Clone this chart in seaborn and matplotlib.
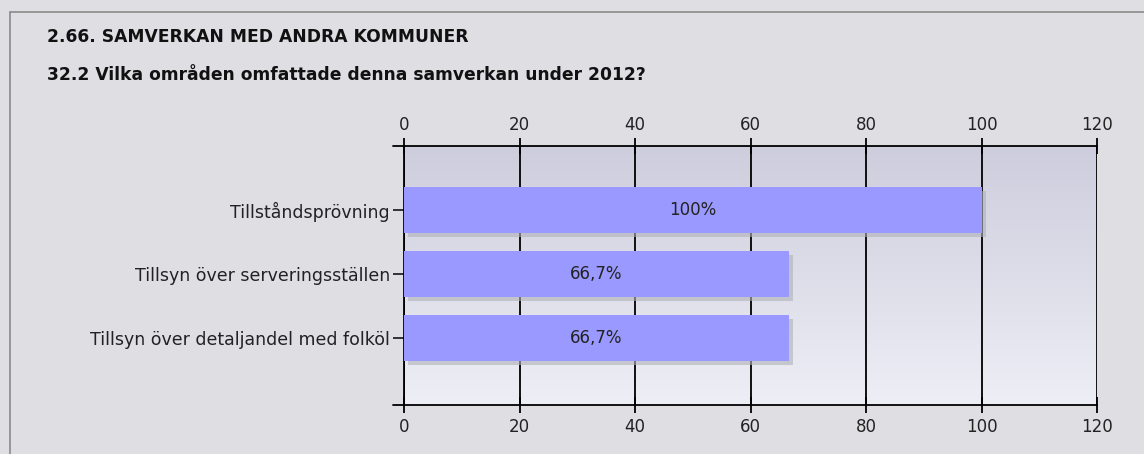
import numpy as np
import pandas as pd
import seaborn as sns
import matplotlib.pyplot as plt
import matplotlib.patheffects as pe
from matplotlib.lines import Line2D

categories = ["Tillståndsprövning", "Tillsyn över serveringsställen",
              "Tillsyn över detaljandel med folköl"]
values = [100, 66.7, 66.7]
value_labels = ["100%", "66,7%", "66,7%"]
x_ticks = [0, 20, 40, 60, 80, 100, 120]

title_1 = "2.66. SAMVERKAN MED ANDRA KOMMUNER"
title_2 = "32.2 Vilka områden omfattade denna samverkan under 2012?"

df = pd.DataFrame({"omrade": categories, "andel": values})

sns.set_style("white")
plt.rcParams["font.family"] = ["DejaVu Sans"]

bg = "#dfdee3"
fig = plt.figure(figsize=(11.44, 4.54), dpi=100, facecolor=bg)
ax = fig.add_axes([404 / 1144, 49 / 454, 693 / 1144, 259 / 454])

# panel border
fig.add_artist(Line2D([10 / 1144, 10 / 1144], [0, 1 - 12 / 454], color="#8a8a8a", lw=1.2))
fig.add_artist(Line2D([10 / 1144, 1], [1 - 12 / 454, 1 - 12 / 454], color="#8a8a8a", lw=1.2))

fig.text(47 / 1144, 1 - 37 / 454, title_1, fontsize=12.3, fontweight="bold", va="center", color="#111111")
fig.text(47 / 1144, 1 - 75 / 454, title_2, fontsize=12.3, fontweight="bold", va="center", color="#111111")

# gradient background in plot area
grad = np.linspace(0, 1, 256).reshape(-1, 1)
cmap = sns.blend_palette(["#cdcddd", "#eeeef6"], as_cmap=True)
ax.imshow(grad, aspect="auto", cmap=cmap, extent=[0, 120, 3.05, -1], zorder=0)

sns.barplot(data=df, y="omrade", x="andel", orient="h", color="#9999ff",
            saturation=1, width=0.73, linewidth=0, ax=ax, zorder=3)
for p in ax.patches:
    p.set_path_effects([pe.SimplePatchShadow(offset=(3, -3), shadow_rgbFace="#b0b0b8", alpha=0.6),
                        pe.Normal()])

for i, (v, lab) in enumerate(zip(values, value_labels)):
    ax.text(v / 2, i, lab, ha="center", va="center", fontsize=12, color="#222222", zorder=5)

ax.set_xlim(0, 120)
ax.set_ylim(3.05, -1)
ax.set_xticks(x_ticks)
ax.set_yticks(range(len(categories)))
ax.set_yticklabels(categories)
ax.set_xlabel("")
ax.set_ylabel("")

for t in x_ticks:
    ax.axvline(t, color="black", lw=1.3, zorder=1)

for s in ["top", "bottom", "left"]:
    ax.spines[s].set_visible(True)
    ax.spines[s].set_color("black")
    ax.spines[s].set_linewidth(1.3)
ax.spines["right"].set_visible(False)

ax.tick_params(axis="x", top=True, labeltop=True, bottom=True, labelbottom=True,
               direction="inout", length=12, width=1.3, labelsize=12, pad=3, colors="black")
ax.tick_params(axis="y", left=True, direction="out", length=8, width=1.3, labelsize=12.5, pad=2)
for lab in ax.get_xticklabels() + ax.get_yticklabels():
    lab.set_color("#222222")

# short ticks at the ends of the category axis
for yy in [-1, 3.05]:
    ax.plot([-1.9, 0], [yy, yy], color="black", lw=1.3, clip_on=False, zorder=4)

fig.savefig("out.png", dpi=100, facecolor=bg)
